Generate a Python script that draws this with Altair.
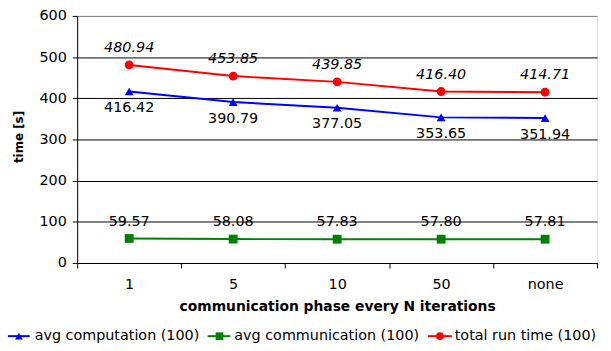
import altair as alt
import pandas as pd

categories = ["1", "5", "10", "50", "none"]
computation = [416.42, 390.79, 377.05, 353.65, 351.94]
communication = [59.57, 58.08, 57.83, 57.80, 57.81]
total = [480.94, 453.85, 439.85, 416.40, 414.71]

series_names = ["avg computation (100)", "avg communication (100)", "total run time (100)"]
series_values = [computation, communication, total]
series_colors = ["#0000FF", "#008000", "#FF0000"]
series_shapes = ["triangle-up", "square", "circle"]

rows = []
for name, vals in zip(series_names, series_values):
    for c, v in zip(categories, vals):
        rows.append({"cat": c, "value": v, "series": name})
df = pd.DataFrame(rows)

FONT = "DejaVu Sans"
FS = 14.5

x_enc = alt.X("cat:N", sort=categories, bandPosition=0.5,
              scale=alt.Scale(type="band", paddingInner=0, paddingOuter=0),
              axis=alt.Axis(title="communication phase every N iterations",
                            labelAngle=0, labelFontSize=FS, labelFont=FONT, labelColor="black",
                            labelPadding=10, tickSize=5, tickColor="black", tickBand="extent",
                            domainColor="black", grid=False,
                            titleFont=FONT, titleFontSize=14, titleFontWeight="bold",
                            titleColor="black", titlePadding=9))
y_enc = alt.Y("value:Q", scale=alt.Scale(domain=[0, 600], nice=False),
              axis=alt.Axis(title="time [s]", values=[0, 100, 200, 300, 400, 500, 600],
                            labelFontSize=FS, labelFont=FONT, labelColor="black",
                            labelPadding=6, tickSize=5, tickColor="black",
                            domainColor="black",
                            gridColor={"condition": {"test": "datum.value == 600", "value": "#808080"},
                                       "value": "black"},
                            titleFont=FONT, titleFontSize=12, titleFontWeight="bold",
                            titleColor="black", titleX=-59, titleY=122, titleAngle=270,
                            titleBaseline="middle", titleAlign="center"))

color_enc = alt.Color("series:N", scale=alt.Scale(domain=series_names, range=series_colors), legend=None)
shape_enc = alt.Shape("series:N", scale=alt.Scale(domain=series_names, range=series_shapes), legend=None)

base = alt.Chart(df)

lines = base.mark_line(strokeWidth=2).encode(x=x_enc, y=y_enc, color=color_enc, detail="series:N")
points = base.mark_point(filled=True, size=80, opacity=1).encode(
    x=x_enc, y=y_enc, color=color_enc, shape=shape_enc)

lab_comp = base.transform_filter(alt.datum.series == series_names[0]).mark_text(
    font=FONT, fontSize=FS, color="black", dy=17).encode(
    x=x_enc, y=y_enc, text=alt.Text("value:Q", format=".2f"))
lab_comm = base.transform_filter(alt.datum.series == series_names[1]).mark_text(
    font=FONT, fontSize=FS, color="black", dy=-17).encode(
    x=x_enc, y=y_enc, text=alt.Text("value:Q", format=".2f"))
lab_tot = base.transform_filter(alt.datum.series == series_names[2]).mark_text(
    font=FONT, fontSize=FS, color="black", fontStyle="italic", dy=-17).encode(
    x=x_enc, y=y_enc, text=alt.Text("value:Q", format=".2f"))

# manual legend
one = alt.Data(values=[{"a": 1}])
legend_layers = []
leg_y = 324
leg_pos = [(-70, -48, -59, -43), (132, 155, 144, 159), (355, 379, 367, 382)]
for name, col, shp, (x0, x1, xm, xt) in zip(series_names, series_colors, series_shapes, leg_pos):
    legend_layers.append(alt.Chart(one).mark_rule(color=col, strokeWidth=2).encode(
        x=alt.value(x0), x2=alt.value(x1), y=alt.value(leg_y)))
    legend_layers.append(alt.Chart(one).mark_point(filled=True, size=60, opacity=1, color=col, shape=shp).encode(
        x=alt.value(xm), y=alt.value(leg_y)))
    legend_layers.append(alt.Chart(one).mark_text(font=FONT, fontSize=FS, color="black", align="left",
                                                  baseline="middle").encode(
        x=alt.value(xt), y=alt.value(leg_y), text=alt.value(name)))

chart = alt.layer(lines, points, lab_comp, lab_comm, lab_tot, *legend_layers).properties(
    width=526, height=250,
    autosize=alt.AutoSizeParams(type="none"),
    padding={"left": 70, "top": 6, "right": 6, "bottom": 86},
).configure_view(stroke="#808080", strokeWidth=1).configure(background="white")

chart.save("out.html", embed_options={"renderer": "svg", "actions": False})
